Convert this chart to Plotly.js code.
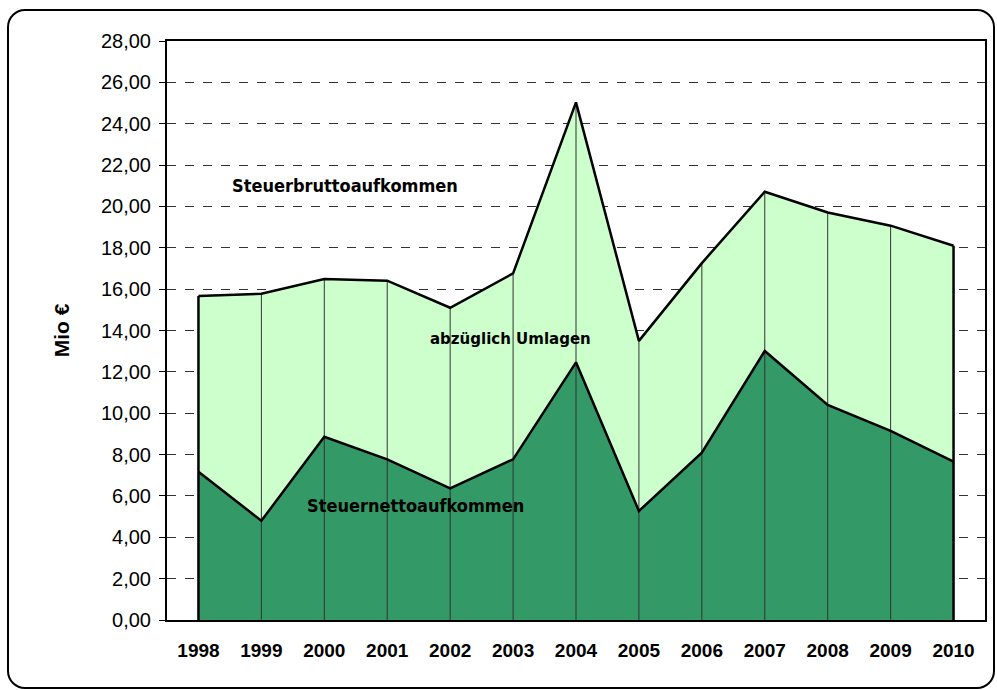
<!DOCTYPE html>
<html>
<head>
<meta charset="utf-8">
<script src="https://cdn.plot.ly/plotly-3.0.1.min.js"></script>
<style>
  html, body { margin: 0; padding: 0; background: #fff; }
  #wrap { position: relative; width: 997px; height: 690px; }
  #chart { width: 997px; height: 690px; }
  #frame { position: absolute; left: 7px; top: 9px; width: 984px; height: 676px;
           border: 2px solid #000; border-radius: 18px; pointer-events: none; }
</style>
</head>
<body>
<div id="wrap"><div id="chart"></div><div id="frame"></div></div>
<script>
const years = ['1998','1999','2000','2001','2002','2003','2004','2005','2006','2007','2008','2009','2010'];
const brutto = [15.67, 15.78, 16.49, 16.41, 15.10, 16.76, 25.03, 13.50, 17.26, 20.71, 19.71, 19.07, 18.10];
const netto  = [7.17, 4.80, 8.86, 7.77, 6.37, 7.77, 12.46, 5.27, 8.09, 13.01, 10.40, 9.15, 7.66];
const yTicks = [0,2,4,6,8,10,12,14,16,18,20,22,24,26,28];

// drop lines from axis to gross line, built from the data
const dropX = [], dropY = [];
years.forEach((y, i) => { dropX.push(y, y, null); dropY.push(0, brutto[i], null); });
const last = years.length - 1;
const edgeX = [years[0], years[0], null, years[last], years[last]];
const edgeY = [0, brutto[0], null, 0, brutto[last]];

const traces = [
  { x: years, y: brutto, type: 'scatter', mode: 'lines', fill: 'tozeroy',
    fillcolor: '#CCFFCC', line: { width: 0, color: 'rgba(0,0,0,0)' }, hoverinfo: 'skip' },
  { x: years, y: netto, type: 'scatter', mode: 'lines', fill: 'tozeroy',
    fillcolor: '#339966', line: { width: 0, color: 'rgba(0,0,0,0)' }, hoverinfo: 'skip' },
  { x: dropX, y: dropY, type: 'scatter', mode: 'lines',
    line: { width: 1, color: '#333333' }, hoverinfo: 'skip' },
  { x: years, y: brutto, type: 'scatter', mode: 'lines', line: { width: 2.5, color: '#000' } },
  { x: years, y: netto, type: 'scatter', mode: 'lines', line: { width: 2.5, color: '#000' } },
  { x: edgeX, y: edgeY, type: 'scatter', mode: 'lines', line: { width: 2.5, color: '#000' }, hoverinfo: 'skip' }
];

const annFont = { family: 'DejaVu Sans Condensed, DejaVu Sans', size: 18, weight: 'bold', color: '#000' };

const layout = {
  width: 997, height: 690,
  margin: { l: 167, r: 12, t: 41, b: 70 },
  paper_bgcolor: '#fff', plot_bgcolor: '#fff',
  showlegend: false,
  separators: ',.',
  font: { family: 'Liberation Sans, Arial, sans-serif', color: '#000' },
  xaxis: {
    type: 'category', range: [-0.5, 12.5],
    showgrid: false, zeroline: false,
    showline: true, linecolor: '#000', linewidth: 2, mirror: true,
    ticks: '', ticklabelstandoff: 12,
    tickfont: { size: 19, family: 'Liberation Sans, Arial, sans-serif', weight: 'bold' }
  },
  yaxis: {
    range: [0, 28], tickvals: yTicks, tickformat: '.2f',
    showgrid: true, gridcolor: '#333', gridwidth: 1, griddash: 'dash',
    zeroline: false,
    showline: true, linecolor: '#000', linewidth: 2, mirror: true,
    ticks: 'outside', ticklen: 6, tickcolor: '#000', tickwidth: 1,
    ticklabelstandoff: 4,
    tickfont: { size: 20 },
    title: { text: 'Mio €', font: { size: 21, weight: 'bold' }, standoff: 26 }
  },
  annotations: [
    { text: 'Steuerbruttoaufkommen', xref: 'paper', yref: 'y', x: 0.218, y: 21.0,
      xanchor: 'center', yanchor: 'middle', showarrow: false, font: annFont },
    { text: 'abzüglich Umlagen', xref: 'paper', yref: 'y', x: 0.42, y: 13.59,
      xanchor: 'center', yanchor: 'middle', showarrow: false,
      font: { family: 'DejaVu Sans', size: 15, weight: 'bold', color: '#000' } },
    { text: 'Steuernettoaufkommen', xref: 'paper', yref: 'y', x: 0.304, y: 5.56,
      xanchor: 'center', yanchor: 'middle', showarrow: false, font: annFont }
  ]
};

Plotly.newPlot('chart', traces, layout, { displayModeBar: false, staticPlot: true });
</script>
</body>
</html>
